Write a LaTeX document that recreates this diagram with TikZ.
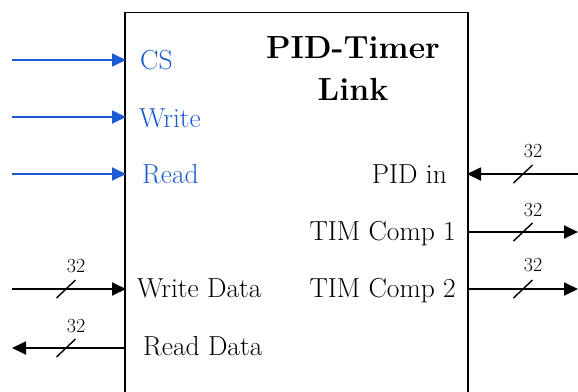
\documentclass[tikz,border=0pt]{standalone}
\usetikzlibrary{arrows.meta}
\definecolor{sigblue}{RGB}{28,90,212}
\tikzset{
  wire/.style={line width=1.8pt},
  tip/.style={-{Triangle[length=14pt,width=13pt]}},
  lbl/.style={font=\fontsize{27.5}{32}\selectfont, inner sep=0pt},
  bus/.style={font=\fontsize{20}{24}\selectfont, inner sep=0pt, anchor=base},
  ttl/.style={font=\fontsize{32}{38}\selectfont\bfseries, inner sep=0pt, anchor=base},
  slash/.style={line width=1.4pt}
}
\begin{document}
\begin{tikzpicture}[x=1pt,y=-1pt]
\useasboundingbox (0,0) rectangle (578,391);
\clip (0,0) rectangle (578,391);
% box
\draw[line width=1.8pt] (125,420) -- (125,12.5) -- (468,12.5) -- (468,420);
% title
\node[ttl] (t1) at (353,58) {PID-Timer};
\node[ttl] (t2) at (353,100) {Link};
% left blue inputs
\node[lbl, anchor=base west, text=sigblue] (cs) at (140,69) {CS};
\node[lbl, anchor=base west, text=sigblue] (wr) at (139,127) {Write};
\node[lbl, anchor=base west, text=sigblue] (rd) at (142,183) {Read};
\coordinate (csA) at (12,60);  \coordinate (csB) at (126,60);
\coordinate (wrA) at (12,117); \coordinate (wrB) at (126,117);
\coordinate (rdA) at (12,174); \coordinate (rdB) at (126,174);
\draw[wire, tip, sigblue] (csA) -- (csB);
\draw[wire, tip, sigblue] (wrA) -- (wrB);
\draw[wire, tip, sigblue] (rdA) -- (rdB);
% data left
\node[lbl, anchor=base west] (wd) at (137,297) {Write Data};
\node[lbl, anchor=base west] (rdd) at (143,355) {Read Data};
\coordinate (wdA) at (12,289);  \coordinate (wdB) at (126,289);
\coordinate (rddA) at (126,348); \coordinate (rddB) at (12,348);
\draw[wire, tip] (wdA) -- (wdB);
\draw[wire, tip] (rddA) -- (rddB);
\coordinate (s1) at (66,289);
\coordinate (s2) at (66,348);
\draw[slash] ([shift={(-9.5,9)}]s1) -- ([shift={(9.5,-9)}]s1);
\draw[slash] ([shift={(-9.5,9)}]s2) -- ([shift={(9.5,-9)}]s2);
\node[bus] (b1) at (76,272) {32};
\node[bus] (b2) at (76,332) {32};
% right side
\node[lbl, anchor=base east] (pid) at (447,183) {PID in};
\node[lbl, anchor=base east] (tc1) at (456,240) {TIM Comp 1};
\node[lbl, anchor=base east] (tc2) at (456,297) {TIM Comp 2};
\coordinate (pA) at (578,174);  \coordinate (pB) at (467,174);
\coordinate (c1A) at (468,232); \coordinate (c1B) at (578,232);
\coordinate (c2A) at (468,289); \coordinate (c2B) at (578,289);
\draw[wire, tip] (pA) -- (pB);
\draw[wire, tip] (c1A) -- (c1B);
\draw[wire, tip] (c2A) -- (c2B);
\coordinate (s3) at (523,174);
\coordinate (s4) at (523,232);
\coordinate (s5) at (523,289);
\draw[slash] ([shift={(-9.5,9)}]s3) -- ([shift={(9.5,-9)}]s3);
\draw[slash] ([shift={(-9.5,9)}]s4) -- ([shift={(9.5,-9)}]s4);
\draw[slash] ([shift={(-9.5,9)}]s5) -- ([shift={(9.5,-9)}]s5);
\node[bus] (b3) at (533,157) {32};
\node[bus] (b4) at (533,216) {32};
\node[bus] (b5) at (533,271) {32};
\end{tikzpicture}
\end{document}
